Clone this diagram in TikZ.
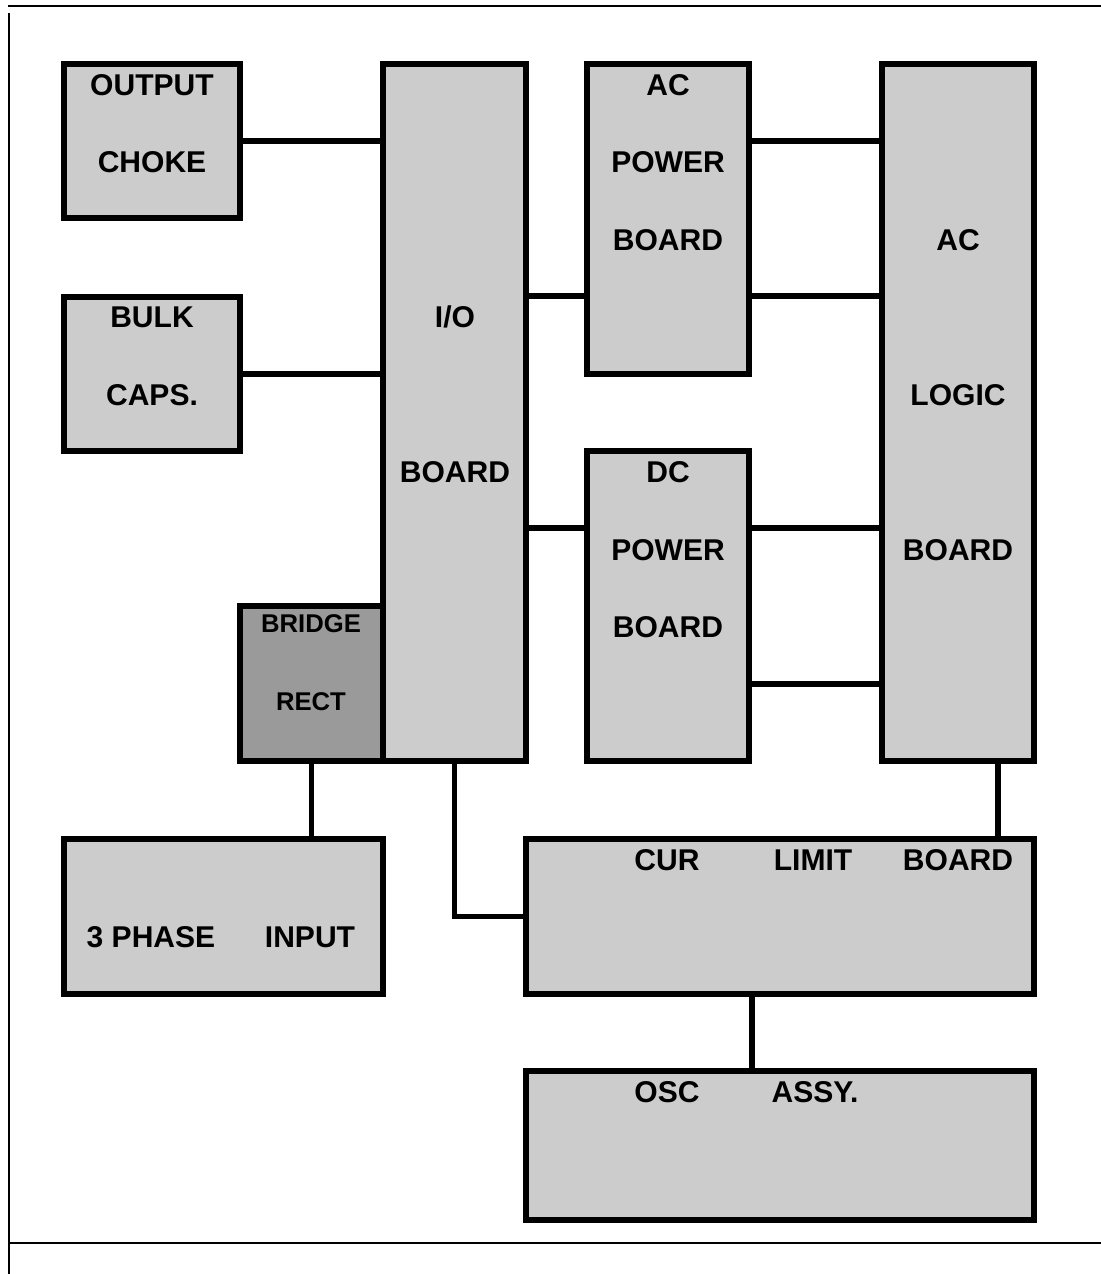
\documentclass[tikz,border=0pt]{standalone}
\usepackage{fontspec}
\setmainfont{Liberation Sans}
\usepackage{tikz}
\usetikzlibrary{fit,calc}
\definecolor{GrisCaja}{RGB}{204,204,204}
\definecolor{GrisPuente}{RGB}{154,154,154}

\begin{document}
\begin{tikzpicture}[x=0.02cm,y=-0.02cm,
  blk/.style={draw,line width=0.11cm,fill=GrisCaja,inner sep=0pt},
  wire/.style={line width=0.11cm},
  frame/.style={line width=0.05cm},
  lbl/.style={font=\bfseries\fontsize{17.1pt}{20pt}\selectfont,inner sep=0pt,text height=0.43cm,text depth=0pt},
  lblsm/.style={font=\bfseries\fontsize{14.6pt}{17pt}\selectfont,inner sep=0pt,text height=0.37cm,text depth=0pt}]
  \useasboundingbox (0,0) rectangle (1101,1274);
  % page rules
  \draw[frame] (8,6)--(1101,6);
  \draw[frame] (9,13)--(9,1274);
  \draw[frame] (9,1243)--(1101,1243);
  % boards
  \node[blk,fit={(64,64) (240,218)}] (choke) {};
  \node[blk,fit={(64,297) (240,451)}] (bulk) {};
  \node[blk,fit={(383,64) (526,761)}] (io) {};
  \node[blk,fill=GrisPuente,fit={(240,606) (383,761)}] (bridge) {};
  \node[blk,fit={(587,64) (749,374)}] (acpower) {};
  \node[blk,fit={(587,451) (749,761)}] (dcpower) {};
  \node[blk,fit={(882,64) (1034,761)}] (logic) {};
  \node[blk,fit={(64,839) (383,994)}] (phase) {};
  \node[blk,fit={(526,839) (1034,994)}] (curlim) {};
  \node[blk,fit={(526,1071) (1034,1220)}] (osc) {};
  % labels
  \node[lbl] (choke-a) at (152,84.5) {OUTPUT};
  \node[lbl] (choke-b) at (152,162) {CHOKE};
  \node[lbl] (bulk-a) at (152,317) {BULK};
  \node[lbl] (bulk-b) at (152,394.5) {CAPS.};
  \node[lbl] (io-a) at (455,317) {I/O};
  \node[lbl] (io-b) at (455,472) {BOARD};
  \node[lbl] (acpower-a) at (668,84.5) {AC};
  \node[lbl] (acpower-b) at (668,162) {POWER};
  \node[lbl] (acpower-c) at (668,239.5) {BOARD};
  \node[lbl] (dcpower-a) at (668,472) {DC};
  \node[lbl] (dcpower-b) at (668,549.5) {POWER};
  \node[lbl] (dcpower-c) at (668,627) {BOARD};
  \node[lbl] (logic-a) at (958,239.5) {AC};
  \node[lbl] (logic-b) at (958,394.5) {LOGIC};
  \node[lbl] (logic-c) at (958,549.5) {BOARD};
  \node[lblsm] (bridge-a) at (311,623) {BRIDGE};
  \node[lblsm] (bridge-b) at (311,701) {RECT};
  \node[lbl] (phase-a) at (151,937) {3 PHASE};
  \node[lbl] (phase-b) at (310,937) {INPUT};
  \node[lbl] (curlim-a) at (667,859.5) {CUR};
  \node[lbl] (curlim-b) at (813,859.5) {LIMIT};
  \node[lbl] (curlim-c) at (958,859.5) {BOARD};
  \node[lbl] (osc-a) at (667,1092) {OSC};
  \node[lbl] (osc-b) at (815,1092) {ASSY.};
  % wiring
  \coordinate (hAC) at (0,296);
  \coordinate (hDC) at (0,528);
  \coordinate (hDCb) at (0,684);
  \coordinate (vLG) at (998,0);
  \draw[wire] (choke.east)--(choke.east -| io.west);
  \draw[wire] (bulk.east)--(bulk.east -| io.west);
  \draw[wire] (io.east |- hAC)--(acpower.west |- hAC);
  \draw[wire] (io.east |- hDC)--(dcpower.west |- hDC);
  \draw[wire] (acpower.east |- choke.east)--(logic.west |- choke.east);
  \draw[wire] (acpower.east |- hAC)--(logic.west |- hAC);
  \draw[wire] (dcpower.east |- hDC)--(logic.west |- hDC);
  \draw[wire] (dcpower.east |- hDCb)--(logic.west |- hDCb);
  \draw[wire] (bridge.south)--(bridge.south |- phase.north);
  \draw[wire] (io.south) |- (curlim.west);
  \draw[wire] (logic.south -| vLG)--(curlim.north -| vLG);
  \draw[wire] (curlim.south -| dcpower.east)--(osc.north -| dcpower.east);
\end{tikzpicture}
\end{document}
